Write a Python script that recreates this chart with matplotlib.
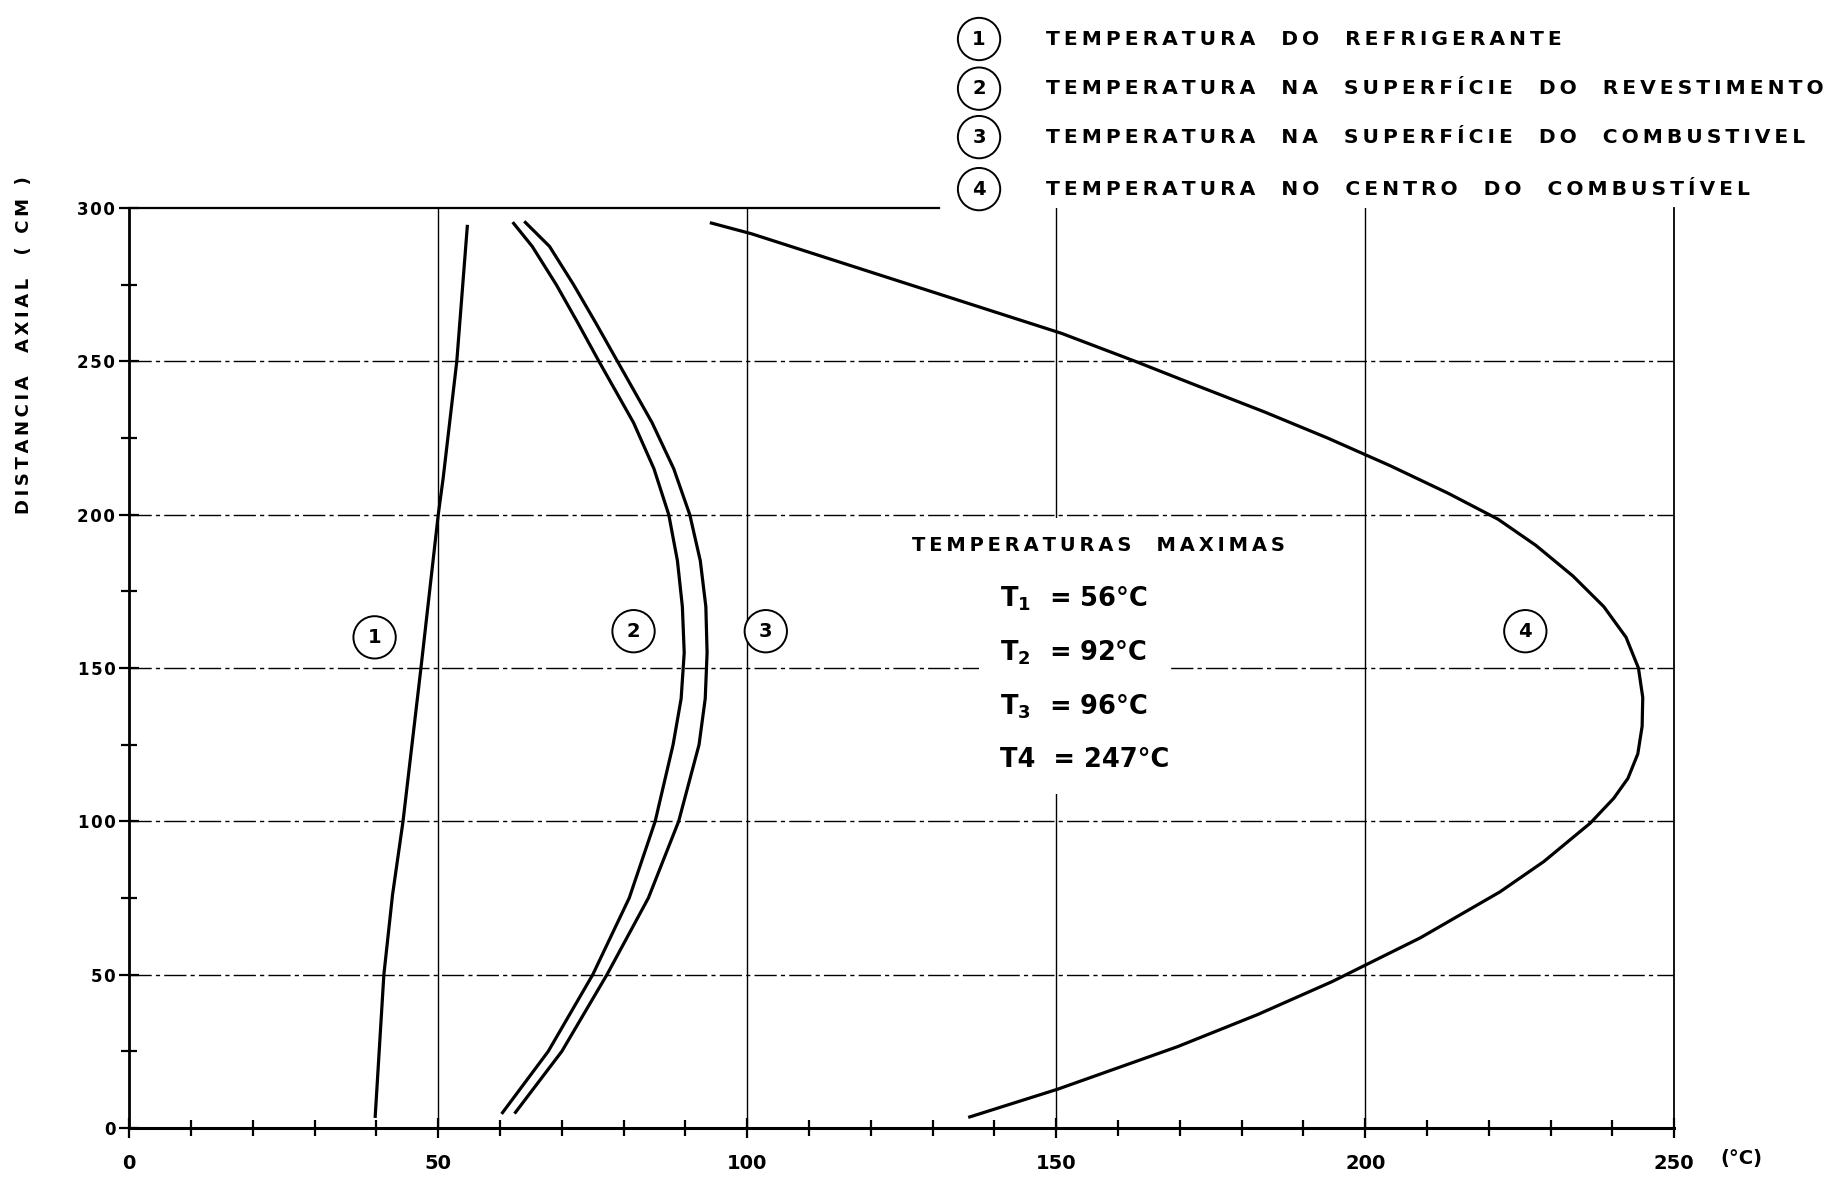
import matplotlib
matplotlib.use('Agg')
import matplotlib.pyplot as plt
import numpy as np

plt.rcParams['font.family'] = ['DejaVu Sans']
plt.rcParams['mathtext.default'] = 'bf'

# Curve (1): coolant temperature
t_coolant = [39.8, 41.2, 42.6, 44.3, 47.2, 50.0, 50.8, 53.0, 54.7]
z_coolant = [3.8, 50, 76, 100, 150, 200, 212, 250, 294]

# Curve (2): cladding surface temperature
t_clad = [60.4, 67.8, 75.0, 80.9, 85.1, 88.0, 89.3, 89.8, 89.5, 88.7, 87.3,
          84.9, 81.6, 76.0, 72.6, 69.1, 65.2, 62.2]
z_clad = [5.0, 25, 50, 75, 100, 125, 140, 155, 170, 185, 200,
          215, 230, 250, 262.5, 275, 287.5, 295.0]

# Curve (3): fuel surface temperature
t_fuel_surf = [62.5, 70.0, 77.3, 84.0, 88.9, 92.2, 93.2, 93.5, 93.3, 92.4, 90.7,
               88.1, 84.6, 79.0, 75.5, 71.9, 68.0, 64.1]
z_fuel_surf = [5.1, 25, 50, 75, 100, 125, 140, 155, 170, 185, 200,
               215, 230, 250, 262.5, 275, 287.5, 295.3]

# Curve (4): fuel centre temperature
t_center = [136.0, 150.3, 169.6, 182.6, 194.6, 208.9, 221.8, 228.9, 236.4, 240.2,
            242.5, 244.1, 244.8, 244.9, 244.2, 242.2, 238.6, 233.6, 227.6, 221.5,
            213.4, 204.0, 193.9, 183.7, 171.6, 162.8, 150.9, 100.7, 94.2]
z_center = [3.6, 12.7, 26.5, 37.0, 47.7, 62.0, 77.0, 86.9, 99.4, 107.5,
            114.0, 122.0, 131.0, 140.4, 150.0, 160.0, 170.0, 180.0, 190.0, 198.5,
            207.0, 216.0, 225.0, 233.5, 243.0, 250.0, 259.1, 291.6, 295.1]

curves = [(t_coolant, z_coolant), (t_clad, z_clad),
          (t_fuel_surf, z_fuel_surf), (t_center, z_center)]

curve_ids = ['1', '2', '3', '4']
id_t = [39.7, 81.6, 103.0, 225.9]
id_z = [160, 162, 162, 162]

legend_texts = ['TEMPERATURA  DO  REFRIGERANTE',
                'TEMPERATURA  NA  SUPERFÍCIE  DO  REVESTIMENTO',
                'TEMPERATURA  NA  SUPERFÍCIE  DO  COMBUSTIVEL',
                'TEMPERATURA  NO  CENTRO  DO  COMBUSTÍVEL']

max_title = 'TEMPERATURAS  MAXIMAS'
max_names = ['T$_1$', 'T$_2$', 'T$_3$', 'T4']
max_values = [56, 92, 96, 247]

x_major = np.arange(0, 251, 50)
x_minor = np.arange(0, 251, 10)
y_major = np.arange(0, 301, 50)
y_minor = np.arange(0, 301, 25)


def spaced(s, sep='\u2009'):
    # wide letter spacing like the hand lettering of the original
    return sep.join(s)


fig = plt.figure(figsize=(18.49, 11.82), dpi=100)
ax = fig.add_axes([0.0699, 0.0457, 0.8356, 0.7783])
ax.set_xlim(0, 250)
ax.set_ylim(0, 300)

# grid
for v in x_major[1:-1]:
    ax.axvline(v, color='black', lw=1.0, zorder=1)
for v in y_major[1:-1]:
    ax.axhline(v, color='black', lw=1.0, ls=(0, (16, 3, 3, 3)), zorder=1)

# frame: top line only partly drawn
ax.spines['top'].set_visible(False)
ax.plot([0, 131], [300, 300], color='black', lw=1.6, clip_on=False)
ax.spines['left'].set_linewidth(2.0)
ax.spines['bottom'].set_linewidth(2.2)
ax.spines['right'].set_linewidth(1.3)

# curves
for t, z in curves:
    ax.plot(t, z, color='black', lw=2.3, zorder=3, solid_joinstyle='round')

for lab, t, z in zip(curve_ids, id_t, id_z):
    ax.text(t, z, lab, ha='center', va='center', fontsize=14, fontweight='bold',
            zorder=4, bbox=dict(boxstyle='circle,pad=0.6', fc='white',
                                ec='black', lw=1.4))

# maximum temperatures block
ax.text(156.9, 190, spaced(max_title), ha='center', va='center', fontsize=14,
        fontweight='bold', zorder=4,
        bbox=dict(boxstyle='square,pad=0.9', fc='white', ec='none'))
for i, (name, val) in enumerate(zip(max_names, max_values)):
    ax.text(140.9, 172.5 - 17.5 * i, f'{name}  = {val}°C', ha='left', va='center',
            fontsize=18.5, fontweight='bold', zorder=4,
            bbox=dict(boxstyle='square,pad=0.8', fc='white', ec='none'))

# ticks
ax.set_xticks(x_major)
ax.set_xticks(x_minor, minor=True)
ax.set_yticks(y_major)
ax.set_yticks(y_minor, minor=True)
ax.set_xticklabels([str(v) for v in x_major], fontsize=14, fontweight='bold')
ax.set_yticklabels([spaced(str(v), '\u200a') for v in y_major], fontsize=12,
                   fontweight='bold')
ax.tick_params(which='both', direction='inout', width=1.6, colors='black')
ax.tick_params(which='major', length=14)
ax.tick_params(which='minor', length=11)
ax.tick_params(axis='x', pad=12)
ax.tick_params(axis='y', pad=3)

fig.text(0.942, 0.0195, '(°C)', ha='center', va='center', fontsize=14,
         fontweight='bold')
fig.text(0.013, 0.708, spaced('DISTANCIA  AXIAL  ( CM )'), rotation=90,
         ha='center', va='center', fontsize=13, fontweight='bold')

# legend
row_y = [0.967, 0.925, 0.884, 0.840]
for lab, txt, y in zip(curve_ids, legend_texts, row_y):
    fig.text(0.5295, y, lab, ha='center', va='center', fontsize=14,
             fontweight='bold',
             bbox=dict(boxstyle='circle,pad=0.6', fc='white', ec='black', lw=1.4))
    fig.text(0.5657, y, spaced(txt), ha='left', va='center', fontsize=14.6,
             fontweight='bold')

fig.savefig('out.png', dpi=100)
